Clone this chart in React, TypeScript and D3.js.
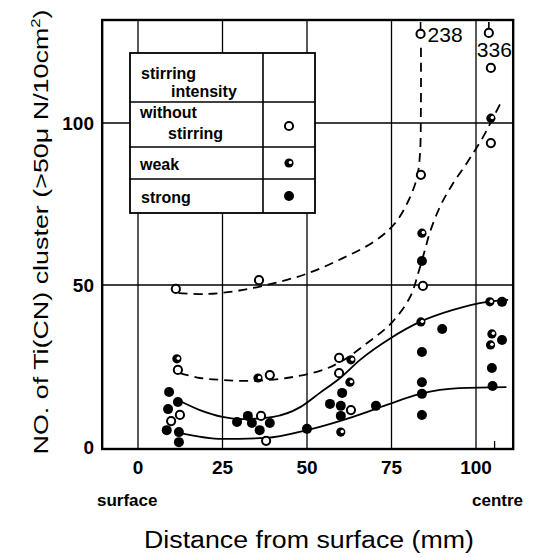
import React from "react";
import * as d3 from "d3";

// ---- data (distance in mm, count per 10 cm^2) ----
const xTicks = [0, 25, 50, 75, 100];
const yTicks = [0, 50, 100];
const yGrid = [50, 100];

const withoutStirring: [number, number][] = [
  [11.2, 48.8], [35.8, 51.5], [11.8, 23.8], [39, 22.2], [12.4, 9.9], [9.8, 8],
  [36.4, 9.6], [37.9, 1.9], [59.5, 27.5], [59.5, 22.8], [63, 11.4], [84.3, 49.7],
  [83.7, 84], [104.4, 117], [104.4, 93.8],
];
const offScale: { x: number; y: number; label: string }[] = [
  { x: 83.6, y: 127.5, label: "238" },
  { x: 103.8, y: 127.8, label: "336" },
];
const weak: [number, number][] = [
  [104.4, 101.5], [83.7, 38.6], [104.1, 44.8], [104.7, 34.9], [104.3, 31.5],
  [63, 26.9], [62.7, 20], [60, 4.6], [11.5, 27.2], [35.5, 21.3], [84, 66],
];
const strong: [number, number][] = [
  [84, 57.4], [90, 36.4], [84, 29.3], [84, 20], [84, 16.4], [84, 9.9],
  [107.7, 44.8], [107.7, 33], [104.7, 24.4], [104.9, 18.8], [60.4, 16.7],
  [56.8, 13.3], [60, 12.7], [60, 9.6], [70.4, 12.7], [50, 5.6], [29.3, 7.7],
  [32.5, 9.6], [33.7, 7.4], [39, 7.4], [36, 5.2], [9.2, 17], [11.8, 13.9],
  [8.9, 11.7], [8.5, 5.2], [12.1, 4.6], [12.1, 1.5],
];

const curveUpperDashed: [number, number][] = [
  [12, 47.5], [20, 47.2], [30, 48.3], [40, 50.5], [50, 53.5], [60, 58],
  [70, 63.5], [76, 69], [80, 76], [82.5, 83], [83.4, 90], [83.7, 105], [83.7, 125],
];
const curveLowerDashed: [number, number][] = [
  [12.4, 22.8], [18.3, 21.3], [25, 20.7], [33, 20.4], [44, 21.3], [53.8, 23.5],
  [59.8, 26.2], [67.7, 32], [75, 38.3], [80.5, 46.3], [83, 54], [84.8, 60.5],
  [86.6, 67], [89.5, 74.5], [93, 81], [97.5, 88], [102, 95.5], [105, 101.5], [107.7, 107],
];
const curveUpperSolid: [number, number][] = [
  [11.8, 14.5], [18.3, 11.4], [25, 9.3], [31, 8.6], [40, 9.3], [48, 12.3],
  [53.8, 16.7], [59.8, 21.3], [65.7, 26.9], [74.6, 33.5], [83.4, 38.6],
  [93.2, 42.3], [103.3, 44.8], [109.5, 45.4],
];
const curveLowerSolid: [number, number][] = [
  [12.4, 4.3], [25, 2.5], [38, 2.8], [50, 5.2], [63.6, 9.3], [73.6, 13],
  [83.4, 16.4], [95, 18.2], [109, 18.5],
];

const legendRows = ["without stirring", "weak", "strong"];

const FONT = "'Liberation Sans', Arial, sans-serif";

export default function App() {
  const x = d3.scaleLinear().domain([0, 100]).range([138, 476]);
  const y = d3.scaleLinear().domain([0, 100]).range([447, 123]);
  const left = x(-10.6);
  const right = x(111);
  const top = 20;
  const bottom = 449;

  const line = d3
    .line<[number, number]>()
    .x((d) => x(d[0]))
    .y((d) => y(d[1]))
    .curve(d3.curveCatmullRom.alpha(0.5));
  const lineMono = d3
    .line<[number, number]>()
    .x((d) => x(d[0]))
    .y((d) => y(d[1]))
    .curve(d3.curveMonotoneX);
  const lineBasis = d3
    .line<[number, number]>()
    .x((d) => x(d[0]))
    .y((d) => y(d[1]))
    .curve(d3.curveCatmullRom.alpha(0.5));

  const r = 4.6;
  const openC = (cx: number, cy: number, key: string) => (
    <circle key={key} cx={cx} cy={cy} r={r - 0.5} fill="#fff" stroke="#000" strokeWidth={2} />
  );
  const strongC = (cx: number, cy: number, key: string) => (
    <circle key={key} cx={cx} cy={cy} r={r + 0.4} fill="#000" />
  );
  const weakC = (cx: number, cy: number, key: string) => (
    <g key={key}>
      <circle cx={cx} cy={cy} r={r} fill="#000" />
      <circle cx={cx + 1.4} cy={cy - 0.6} r={1.7} fill="#fff" />
    </g>
  );

  return (
    <svg width={535} height={558} style={{ position: "absolute", left: 0, top: 0, background: "#fff" }}>
      <rect x={0} y={0} width={535} height={558} fill="#fff" />
      {/* gridlines */}
      {xTicks.map((t) => (
        <line key={"gx" + t} x1={x(t)} x2={x(t)} y1={top} y2={bottom} stroke="#000" strokeWidth={1.3} />
      ))}
      {yGrid.map((t) => (
        <line key={"gy" + t} x1={left} x2={right} y1={y(t)} y2={y(t)} stroke="#000" strokeWidth={1.3} />
      ))}
      <line x1={x(105.5)} x2={x(105.5)} y1={bottom - 8} y2={bottom} stroke="#000" strokeWidth={1.3} />
      {/* frame */}
      <rect x={left} y={top} width={right - left} height={bottom - top} fill="none" stroke="#000" strokeWidth={2.4} />

      {/* curves */}
      <path d={line(curveUpperDashed) || ""} fill="none" stroke="#000" strokeWidth={1.8} strokeDasharray="9,6" />
      <path d={lineBasis(curveLowerDashed) || ""} fill="none" stroke="#000" strokeWidth={1.8} strokeDasharray="9,6" />
      <path d={lineMono(curveUpperSolid) || ""} fill="none" stroke="#000" strokeWidth={1.8} />
      <path d={lineMono(curveLowerSolid) || ""} fill="none" stroke="#000" strokeWidth={1.8} />
      {offScale.map((d) => (
        <line key={"os" + d.label} x1={x(d.x)} x2={x(d.x)} y1={top + 2} y2={y(d.y) - r} stroke="#000" strokeWidth={1.6} strokeDasharray="7,5" />
      ))}

      {/* legend */}
      <g>
        <rect x={130} y={53} width={185} height={160} fill="#fff" stroke="#000" strokeWidth={1.8} />
        <line x1={263} x2={263} y1={53} y2={213} stroke="#000" strokeWidth={1.6} />
        {[102, 147, 179].map((yy) => (
          <line key={"lr" + yy} x1={130} x2={315} y1={yy} y2={yy} stroke="#000" strokeWidth={1.6} />
        ))}
        <g fontFamily={FONT} fontWeight="bold" fontSize={16} fill="#000">
          <text x={141} y={79}>stirring</text>
          <text x={171} y={97}>intensity</text>
          <text x={140} y={118}>{legendRows[0].split(" ")[0]}</text>
          <text x={168} y={139}>{legendRows[0].split(" ")[1]}</text>
          <text x={140} y={170}>{legendRows[1]}</text>
          <text x={141} y={203}>{legendRows[2]}</text>
        </g>
        {openC(289, 126, "lg0")}
        {weakC(289, 163, "lg1")}
        {strongC(289, 196, "lg2")}
      </g>

      {/* markers */}
      {withoutStirring.map((d, i) => openC(x(d[0]), y(d[1]), "o" + i))}
      {offScale.map((d, i) => openC(x(d.x), y(d.y), "os" + i))}
      {weak.map((d, i) => weakC(x(d[0]), y(d[1]), "w" + i))}
      {strong.map((d, i) => strongC(x(d[0]), y(d[1]), "s" + i))}
      <text x={x(83.6) + 7} y={y(127.5) + 8} fontFamily={FONT} fontSize={21} fill="#000">{offScale[0].label}</text>
      <text x={x(103.8) - 12} y={y(127.8) + 24} fontFamily={FONT} fontSize={21} fill="#000">{offScale[1].label}</text>

      {/* tick labels */}
      <g fontFamily={FONT} fontWeight="bold" fontSize={19} fill="#000">
        {xTicks.map((t) => (
          <text key={"xt" + t} x={x(t)} y={474} textAnchor="middle">{t}</text>
        ))}
        {yTicks.map((t) => (
          <text key={"yt" + t} x={94} y={y(t) + 7} textAnchor="end">{t}</text>
        ))}
        <text x={97} y={506} fontSize={17}>surface</text>
        <text x={523} y={506} fontSize={17} textAnchor="end">centre</text>
      </g>
      <text x={309} y={548} textAnchor="middle" fontFamily={FONT} fontSize={23} textLength={330} lengthAdjust="spacingAndGlyphs">
        Distance from surface (mm)
      </text>
      <text transform={`translate(48, 232) rotate(-90)`} textAnchor="middle" fontFamily={FONT} fontSize={21} textLength={445} lengthAdjust="spacingAndGlyphs">
        NO. of Ti(CN) cluster (&gt;50μ N/10cm<tspan dy={-8} fontSize={13}>2</tspan><tspan dy={8}>)</tspan>
      </text>
    </svg>
  );
}
